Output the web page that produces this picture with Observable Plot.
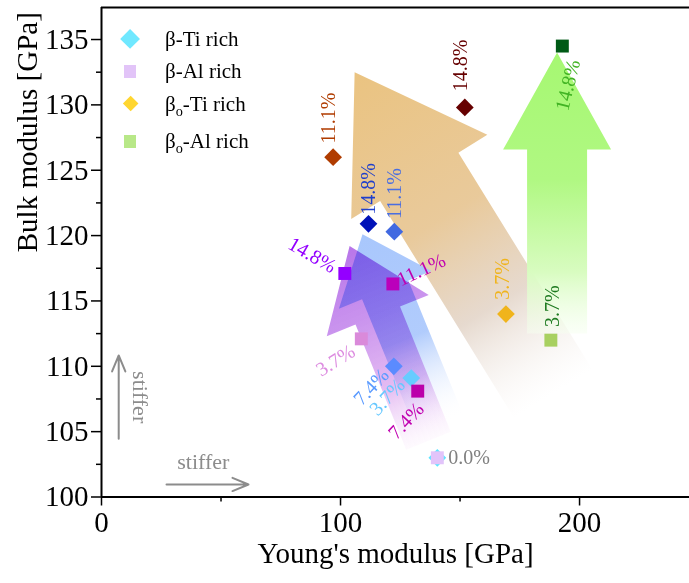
<!DOCTYPE html>
<html>
<head>
<meta charset="utf-8">
<script src="https://cdn.jsdelivr.net/npm/d3@7"></script>
<script src="https://cdn.jsdelivr.net/npm/@observablehq/plot@0.6"></script>
<style>
  body { margin: 0; background: #fff; }
  #wrap { position: relative; width: 689px; height: 583px; font-family: "Liberation Serif", "Times New Roman", Times, "DejaVu Serif", serif; }
  .lg-sym { position: absolute; }
  .lg-txt { position: absolute; font-size: 21px; line-height: 21px; white-space: nowrap; color: #000; }
  .lg-txt sub { font-size: 0.68em; vertical-align: -0.32em; line-height: 0; }
  svg text { font-family: "Liberation Serif", "Times New Roman", Times, "DejaVu Serif", serif; }
</style>
</head>
<body>
<div id="wrap"></div>
<script>
// ---------------- data ----------------
const pct = ["0.0%", "3.7%", "7.4%", "11.1%", "14.8%"];
const seriesNames = ["β-Ti rich", "β-Al rich", "βo-Ti rich", "βo-Al rich"];

// Young's modulus E [GPa] and bulk modulus B [GPa] per composition
const betaTi_E  = [140.5, 129.6, 122.3, 122.5, 111.7];
const betaTi_B  = [103.0, 109.1, 110.0, 120.3, 120.9];
const betaAl_E  = [140.5, 108.7, 132.3, 121.9, 101.8];
const betaAl_B  = [103.0, 112.1, 108.1, 116.3, 117.1];
const betaOTi_E = [null, 169.2, null, 96.9, 152.0];
const betaOTi_B = [null, 114.0, null, 126.0, 129.8];
const betaOAl_E = [null, 188.0, null, null, 192.8];
const betaOAl_B = [null, 112.0, null, null, 134.5];

// trend arrows (tip / tail in data units) per series
const arrowSeries = ["βo-Ti rich", "βo-Al rich", "β-Ti rich", "β-Al rich"];
const arrowTipE  = [105.9, 190.6, 109.2, 103.8];
const arrowTipB  = [132.5, 134.0, 120.1, 119.2];
const arrowTailE = [189.0, 190.6, 141.8, 136.8];
const arrowTailB = [107.9, 112.5, 105.5, 104.3];

// "stiffer" guide arrows
const stiffX1 = [7.2, 27.2];
const stiffY1 = [104.45, 100.96];
const stiffX2 = [7.2, 61.5];
const stiffY2 = [110.83, 100.96];
const stiffTextX = [16.3, 42.6];
const stiffTextY = [107.64, 102.66];
const stiffText = ["stiffer", "stiffer"];

// ticks
const xMajorTicks = [0, 100, 200];
const xMinorTicks = [50, 150];
const yMajorTicks = [100, 105, 110, 115, 120, 125, 130, 135];
const yMinorTicks = [102.5, 107.5, 112.5, 117.5, 122.5, 127.5, 132.5];

// ---------------- styles ----------------
const W = 689, H = 583;
const M = {left: 101, right: 0, top: 7, bottom: 86.5};
const xDomain = [0, 246], yDomain = [100, 137.45];
const FONT = "'Liberation Serif', 'Times New Roman', Times, 'DejaVu Serif', serif";

const seriesStyle = {
  "β-Ti rich":  {symbol: "diamond2", r: 8,   colors: ["#5ee4ff", "#66ccff", "#5b8bff", "#4169e1", "#0012b8"]},
  "β-Al rich":  {symbol: "square",   r: 7.3, colors: ["#e2c4fa", "#da8ada", "#bb00aa", "#bb00bb", "#9400ff"]},
  "βo-Ti rich": {symbol: "diamond2", r: 8,   colors: [null, "#f0b41c", null, "#b03c00", "#660000"]},
  "βo-Al rich": {symbol: "square",   r: 7.3, colors: [null, "#a8d060", null, null, "#005a16"]}
};

// label placement: [series, pct, dx, dy, rotate, color, anchor]
const labelStyle = [
  ["β-Ti rich", "0.0%", 11, 0, 0, "#808080", "start"],
  ["β-Ti rich", "3.7%", -24, 19, -47, "#66c8ff", "middle"],
  ["β-Ti rich", "7.4%", -22.6, 20.7, -47, "#5b9bff", "middle"],
  ["β-Ti rich", "11.1%", 0, -38, -90, "#4a6ee0", "middle"],
  ["β-Ti rich", "14.8%", 0, -35, -90, "#1f3fcc", "middle"],
  ["β-Al rich", "3.7%", -25.7, 21.7, -32, "#dd8ce0", "middle"],
  ["β-Al rich", "7.4%", -11.6, 29.7, -47, "#c000b0", "middle"],
  ["β-Al rich", "11.1%", 28.4, -14, -25, "#c000b0", "middle"],
  ["β-Al rich", "14.8%", -32.6, -18.3, 30, "#9400ff", "middle"],
  ["βo-Ti rich", "3.7%", -3, -35, -90, "#f0b41c", "middle"],
  ["βo-Ti rich", "11.1%", -5, -39, -90, "#b03c00", "middle"],
  ["βo-Ti rich", "14.8%", -4, -42, -90, "#660000", "middle"],
  ["βo-Al rich", "3.7%", 2, -34, -90, "#1e7a20", "middle"],
  ["βo-Al rich", "14.8%", 5.6, 39, -76, "#42b424", "middle"]
];

// arrow shapes in px and gradients
const arrowShape = {
  "βo-Ti rich": {head: 123, headW: 160, shaftW: 92, blend: "normal",
    stops: [[0, "#e9c07a", 0.95], [0.45, "#e7c592", 0.92], [0.72, "#e2d3c6", 0.85], [1, "#f4efec", 0]]},
  "βo-Al rich": {head: 97, headW: 108, shaftW: 60, blend: "normal",
    stops: [[0, "#a6f872", 1], [0.45, "#b0f882", 1], [0.78, "#d8fcc0", 1], [1, "#f6fff0", 0.5]]},
  "β-Ti rich": {head: 60, headW: 100, shaftW: 50, blend: "normal",
    stops: [[0, "#a4c4fc", 0.95], [0.55, "#a8c6fc", 0.9], [1, "#ffffff", 0]]},
  "β-Al rich": {head: 75, headW: 110, shaftW: 48, blend: "multiply",
    stops: [[0, "#b46ee8", 0.95], [0.35, "#c488ec", 0.9], [0.7, "#e0b0f0", 0.85], [1, "#fbeefc", 0.3]]}
};

const legendStyle = [
  {color: "#70e8ff", shape: "diamond", size: 20, cy: 39.3, base: 45.7},
  {color: "#e2c4f8", shape: "square", size: 12.3, cy: 71.5, base: 78.2},
  {color: "#ffd630", shape: "diamond", size: 16, cy: 104, base: 110.7},
  {color: "#b8e888", shape: "square", size: 12.3, cy: 141.5, base: 148.2}
];

// ---------------- helpers ----------------
const px = x => M.left + (x - xDomain[0]) / (xDomain[1] - xDomain[0]) * (W - M.left - M.right);
const py = y => (H - M.bottom) - (y - yDomain[0]) / (yDomain[1] - yDomain[0]) * (H - M.bottom - M.top);
const ix = p => xDomain[0] + (p - M.left) / (W - M.left - M.right) * (xDomain[1] - xDomain[0]);
const iy = p => yDomain[0] + ((H - M.bottom) - p) / (H - M.bottom - M.top) * (yDomain[1] - yDomain[0]);

const seriesData = {
  "β-Ti rich": [betaTi_E, betaTi_B],
  "β-Al rich": [betaAl_E, betaAl_B],
  "βo-Ti rich": [betaOTi_E, betaOTi_B],
  "βo-Al rich": [betaOAl_E, betaOAl_B]
};

const points = [];
seriesNames.forEach(s => {
  const [E, B] = seriesData[s];
  E.forEach((e, i) => {
    if (e == null) return;
    points.push({series: s, pct: pct[i], E: e, B: B[i], color: seriesStyle[s].colors[i]});
  });
});

// arrow polygons
const arrowPolys = arrowSeries.map((s, i) => {
  const sh = arrowShape[s];
  const T = [px(arrowTipE[i]), py(arrowTipB[i])];
  const S = [px(arrowTailE[i]), py(arrowTailB[i])];
  const dx = S[0] - T[0], dy = S[1] - T[1];
  const L = Math.hypot(dx, dy);
  const u = [dx / L, dy / L], p = [-u[1], u[0]];
  const base = [T[0] + sh.head * u[0], T[1] + sh.head * u[1]];
  const hw = sh.headW / 2, sw = sh.shaftW / 2;
  const pts = [
    T,
    [base[0] + hw * p[0], base[1] + hw * p[1]],
    [base[0] + sw * p[0], base[1] + sw * p[1]],
    [S[0] + sw * p[0], S[1] + sw * p[1]],
    [S[0] - sw * p[0], S[1] - sw * p[1]],
    [base[0] - sw * p[0], base[1] - sw * p[1]],
    [base[0] - hw * p[0], base[1] - hw * p[1]]
  ];
  return {series: s, id: "grad" + i, T, S, blend: sh.blend, stops: sh.stops, pts: pts.map(q => ({x: ix(q[0]), y: iy(q[1])}))};
});

// ---------------- marks ----------------
const marks = [];

arrowPolys.forEach(a => {
  marks.push(Plot.line(a.pts, {x: "x", y: "y", fill: `url(#${a.id})`, stroke: "none", curve: "linear-closed", mixBlendMode: a.blend}));
});

// axes
marks.push(Plot.ruleX([xDomain[0]], {stroke: "black", strokeWidth: 2}));
marks.push(Plot.ruleY([yDomain[0]], {stroke: "black", strokeWidth: 2}));
marks.push(Plot.ruleY([yDomain[1]], {stroke: "black", strokeWidth: 2}));
marks.push(Plot.axisX(xMajorTicks, {tickSize: 9, tickPadding: 5, fontSize: 29, fontFamily: FONT, label: null, strokeWidth: 1.5}));
marks.push(Plot.axisX(xMinorTicks, {tickSize: 5, tickFormat: () => "", label: null, strokeWidth: 1.5}));
marks.push(Plot.axisY(yMajorTicks, {tickSize: 10, tickPadding: 3, fontSize: 29, fontFamily: FONT, label: null, strokeWidth: 1.5}));
marks.push(Plot.axisY(yMinorTicks, {tickSize: 5, tickFormat: () => "", label: null, strokeWidth: 1.5}));
marks.push(Plot.text(["Young's modulus [GPa]"], {text: d => d, frameAnchor: "bottom", dy: 66, fontSize: 29, fontFamily: FONT, fill: "black"}));
marks.push(Plot.text(["Bulk modulus [GPa]"], {text: d => d, frameAnchor: "left", dx: -74, rotate: -90, fontSize: 29, fontFamily: FONT, fill: "black"}));

// stiffer guides
const stiffArrows = stiffX1.map((x1, i) => ({x1, y1: stiffY1[i], x2: stiffX2[i], y2: stiffY2[i]}));
const stiffLabels = stiffText.map((t, i) => ({text: t, x: stiffTextX[i], y: stiffTextY[i], rotate: i === 0 ? 90 : 0}));
marks.push(Plot.arrow(stiffArrows, {x1: "x1", y1: "y1", x2: "x2", y2: "y2", stroke: "#8c8c8c", strokeWidth: 2, headLength: 13, headAngle: 45}));
marks.push(Plot.text(stiffLabels, {x: "x", y: "y", text: "text", rotate: "rotate", fill: "#8c8c8c", fontSize: 22, fontFamily: FONT}));

// points: draw per series so that β-Al squares sit on β-Ti diamonds at 0.0%
seriesNames.forEach(s => {
  const st = seriesStyle[s];
  marks.push(Plot.dot(points.filter(d => d.series === s), {x: "E", y: "B", fill: "color", symbol: st.symbol, r: st.r, stroke: "none"}));
});

// labels
labelStyle.forEach(([s, p, dx, dy, rot, col, anchor]) => {
  const pt = points.filter(d => d.series === s && d.pct === p);
  marks.push(Plot.text(pt, {x: "E", y: "B", text: "pct", dx, dy, rotate: rot, fill: col, fontSize: 20, fontFamily: FONT, textAnchor: anchor}));
});

const chart = Plot.plot({
  width: W, height: H,
  marginLeft: M.left, marginRight: M.right, marginTop: M.top, marginBottom: M.bottom,
  x: {domain: xDomain},
  y: {domain: yDomain},
  color: {type: "identity"},
  style: {fontFamily: FONT, background: "white", overflow: "visible", color: "black"},
  marks
});

// gradients for the trend arrows
const ns = "http://www.w3.org/2000/svg";
const defs = document.createElementNS(ns, "defs");
arrowPolys.forEach(a => {
  const g = document.createElementNS(ns, "linearGradient");
  g.setAttribute("id", a.id);
  g.setAttribute("gradientUnits", "userSpaceOnUse");
  g.setAttribute("x1", a.T[0]); g.setAttribute("y1", a.T[1]);
  g.setAttribute("x2", a.S[0]); g.setAttribute("y2", a.S[1]);
  a.stops.forEach(([o, c, op]) => {
    const st = document.createElementNS(ns, "stop");
    st.setAttribute("offset", o);
    st.setAttribute("stop-color", c);
    st.setAttribute("stop-opacity", op);
    g.appendChild(st);
  });
  defs.appendChild(g);
});
chart.insertBefore(defs, chart.firstChild);

const wrap = document.getElementById("wrap");
wrap.appendChild(chart);

// legend (HTML overlay, top-left inside the frame)
seriesNames.forEach((name, i) => {
  const ls = legendStyle[i];
  const sym = document.createElement("div");
  sym.className = "lg-sym";
  const side = ls.shape === "diamond" ? ls.size / Math.SQRT2 : ls.size;
  sym.style.width = side + "px";
  sym.style.height = side + "px";
  sym.style.left = (130.3 - side / 2) + "px";
  sym.style.top = (ls.cy - side / 2) + "px";
  sym.style.background = ls.color;
  if (ls.shape === "diamond") sym.style.transform = "rotate(45deg)";
  wrap.appendChild(sym);
  const txt = document.createElement("div");
  txt.className = "lg-txt";
  txt.style.left = "165px";
  txt.style.top = (ls.base - 17) + "px";
  txt.innerHTML = name.replace("βo", "β<sub>o</sub>");
  wrap.appendChild(txt);
});
</script>
</body>
</html>
